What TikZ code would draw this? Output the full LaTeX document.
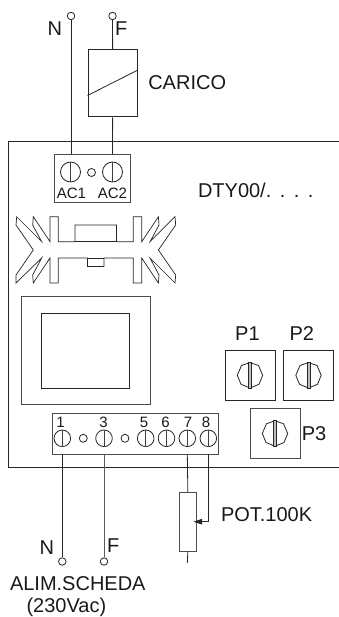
\documentclass[tikz,border=0pt]{standalone}
\usepackage{fontspec}
\setmainfont{Liberation Sans}
\usetikzlibrary{arrows.meta,calc}
\tikzset{
  x=1pt,y=-1pt,
  line/.style={draw=black!85,line width=0.8pt,line join=miter},
  lbl/.style={inner sep=0pt,outer sep=0pt,font=\fontsize{20}{20}\selectfont,text=black!90,anchor=base west},
  small/.style={inner sep=0pt,outer sep=0pt,font=\fontsize{15}{15}\selectfont,text=black!90,anchor=base},
  term/.style={circle,draw=black!85,line width=0.8pt,minimum size=7.5pt,inner sep=0pt,fill=white},
  boxx/.style={draw=black!70,line width=1pt,fill=white},
}
\newcommand{\screw}[3]{%
  \draw[line] (#1,#2) circle[radius=#3];
  \draw[draw=black!75,line width=1pt] ($(#1,#2)+(0,-#3)$) -- ($(#1,#2)+(0,#3)$);
}
\newcommand{\knob}[2]{%
  \begin{scope}[shift={(#1,#2)}]
  \draw[line] (0,-12.7) -- (8.5,-9.8) -- (12.7,0) -- (9,9) -- (0,12.7) -- (-9,9) -- (-12.7,0) -- (-8.5,-9.8) -- cycle;
  \draw[line,fill=black!25] (-1.6,-12.7) rectangle (1.6,12.7);
  \end{scope}
}
\begin{document}
\begin{tikzpicture}
\useasboundingbox (0,0) rectangle (339,617);
% board
\draw[line] (339,141) -- (8,141) -- (8,467) -- (339,467);
% top block
\node[boxx,minimum width=75.5pt,minimum height=48pt,inner sep=0pt,anchor=north west] (acblock) at (54,154) {};
\coordinate (ac1top) at (71,154);
\coordinate (ac2top) at (112.5,154);
% load coil
\node[line,draw,minimum width=49.5pt,minimum height=67pt,inner sep=0pt,anchor=north west] (coil) at (87.5,49.5) {};
\draw[line] (87.5,95.5) -- (137,70.5);
\node[term] (tn) at (71,16) {};
\node[term] (tf) at (112.5,16) {};
\draw[line] (tn) -- (ac1top);
\draw[line] (tf) -- (coil.north);
\draw[line] (coil.south) -- (ac2top);
\node[lbl] (ln) at (47.5,35.7) {N};
\node[lbl] (lf) at (115,35.7) {F};
\node[lbl] (lc) at (148.3,89.2) {CARICO};
\screw{70.5}{172}{10}
\screw{112.5}{172}{10}
\node[term,minimum size=8pt] (acm) at (91.5,172.5) {};
\node[small] (ac1) at (71.5,198.2) {AC1};
\node[small] (ac2) at (112.5,198.2) {AC2};
\node[lbl] (dty) at (198,197.3) {\spaceskip=6.6pt DTY00/. . . .};
% heatsink
\draw[line,line width=0.7pt] (50,241.7) -- (33.3,216.7) -- (32.7,225) -- (41.7,241.7) -- (16.7,216.7) -- (16,225) -- (33.3,250) -- (16,275) -- (16,283) -- (41.7,258) -- (32.7,275) -- (33.3,283) -- (50,258) -- (50,283) -- (58.3,283) -- (58.3,258) -- (87.5,258) -- (87.5,266.5) -- (104,266.5) -- (104,258) -- (133.3,258) -- (133.3,283) -- (141.7,283) -- (141.7,258) -- (158.4,283) -- (159,275) -- (150,258) -- (175,283) -- (175.7,275) -- (158.4,250) -- (175.7,225) -- (175,216.7) -- (150,241.7) -- (159,225) -- (158.4,216.7) -- (141.7,241.7) -- (141.7,216.7) -- (133.3,216.7) -- (133.3,241.7) -- (116.5,241.7) -- (116.5,225) -- (75,225) -- (75,241.7) -- (58.3,241.7) -- (58.3,216.7) -- (50,216.7) -- cycle;
\draw[line,line width=0.7pt] (75,241.7) -- (116.5,241.7);
\draw[line,line width=0.7pt] (87.5,258) -- (104,258);
% transformer
\node[boxx,minimum width=129.5pt,minimum height=108.3pt,inner sep=0pt,anchor=north west] (tro) at (20.7,296) {};
\node[line,draw,minimum width=88pt,minimum height=75pt,inner sep=0pt,anchor=north west] (tri) at (41.3,312.7) {};
% bottom block
\node[boxx,minimum width=166.6pt,minimum height=41.6pt,inner sep=0pt,anchor=north west] (bblock) at (51.7,412.7) {};
\screw{62.3}{438.3}{8.3}
\screw{104}{438.3}{8.3}
\screw{145.7}{438.3}{8.3}
\screw{166.5}{438.3}{8.3}
\screw{187.3}{438.3}{8.3}
\screw{208.3}{438.3}{8.3}
\node[term,minimum size=8pt] (m1) at (83.3,438.3) {};
\node[term,minimum size=8pt] (m2) at (125,438.3) {};
\node[small] (d1) at (60.5,427.3) {1};
\node[small] (d3) at (103.5,427.3) {3};
\node[small] (d5) at (144,427.3) {5};
\node[small] (d6) at (165.5,427.3) {6};
\node[small] (d7) at (188,427.3) {7};
\node[small] (d8) at (206,427.3) {8};
\coordinate (b1) at (62.3,454.3);
\coordinate (b3) at (104,454.3);
\coordinate (b7) at (187.3,454.3);
\coordinate (b8) at (208.3,454.3);
% knobs
\node[line,draw,minimum size=50pt,inner sep=0pt] (p1) at (250,375.3) {};
\node[line,draw,minimum size=50pt,inner sep=0pt] (p2) at (308.5,375.3) {};
\node[boxx,minimum size=50pt,inner sep=0pt] (p3) at (275,433.5) {};
\knob{250}{375.3}
\knob{308.5}{375.3}
\knob{275}{433.5}
\node[lbl] (lp1) at (235.2,340.7) {P1};
\node[lbl] (lp2) at (289.5,340.7) {P2};
\node[lbl] (lp3) at (301.8,440.7) {P3};
% bottom wires
\node[term] (bn) at (62.3,561.5) {};
\node[term] (bf) at (104,561.5) {};
\draw[line] (b1) -- (bn);
\draw[line,line width=1pt,draw=black!65] (b3) -- (bf);
\node[lbl] (lbn) at (39.5,554) {N};
\node[lbl] (lbf) at (107,552) {F};
\node[lbl] (alim) at (10,590) {ALIM.SCHEDA};
\node[lbl] (v) at (26.5,612.7) {(230Vac)};
% potentiometer
\node[boxx,minimum width=16.7pt,minimum height=58.4pt,inner sep=0pt,anchor=north west] (pot) at (179,492.3) {};
\coordinate (potend) at (187.3,563);
\coordinate (wiper) at (193.5,521.7);
\coordinate (w8) at (208.3,521.7);
\draw[line] (b7) -- (pot.north);
\draw[line] (pot.south) -- (potend);
\draw[line,-{Triangle[length=8.5pt,width=5.5pt]}] (b8) -- (w8) -- (wiper);
\node[lbl] (lpot) at (221,521.7) {POT.100K};
\end{tikzpicture}
\end{document}
